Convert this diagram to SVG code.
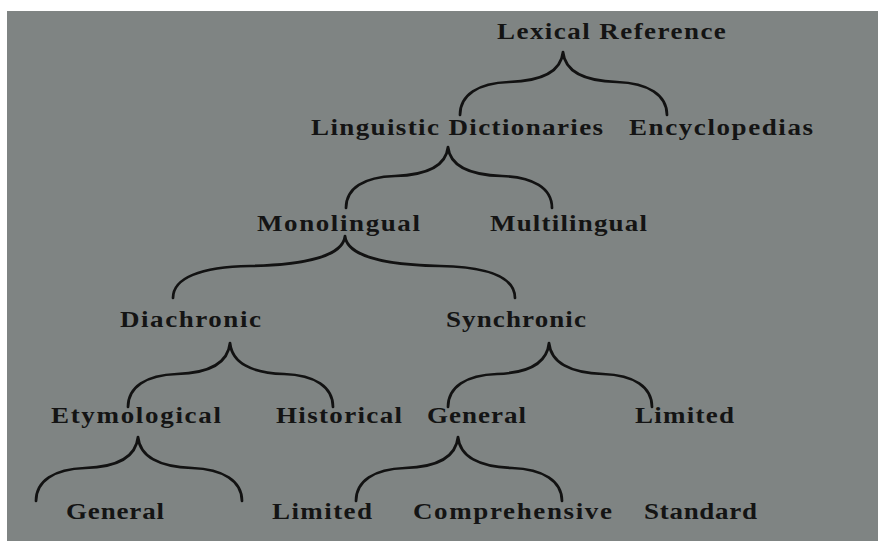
<svg xmlns="http://www.w3.org/2000/svg" width="878" height="541" viewBox="0 0 878 541">
<style>
.lbl{font-family:"Liberation Serif","Times New Roman",serif;font-weight:bold;font-size:23.5px;fill:#141414}
.br{fill:none;stroke:#121212;stroke-width:2.7;stroke-linecap:round;stroke-linejoin:round}
</style>
<rect x="0" y="0" width="878" height="541" fill="#ffffff"/>
<rect x="7" y="11" width="871" height="530" fill="#7f8483"/>
<g id="connectors">
<path class="br" d="M460,115 C460,95 478,83 509,82 C541,81 561,72 563,52 C565,72 585,81 617,82 C648,83 667,95 667,115"/>
<path class="br" d="M346,208 C346,188 364,177 395,176 C427,175 446,166 448,147 C450,166 470,175 502,176 C533,177 552,188 552,208"/>
<path class="br" d="M173,298 C173,278 200,267 250,266 C305,265 343,256 345,236 C347,256 385,265 440,266 C490,267 515,278 515,298"/>
<path class="br" d="M128,407 C128,387 146,375 177,374 C209,373 228,363 230,343 C232,363 252,373 284,374 C315,375 333,387 333,407"/>
<path class="br" d="M448,407 C448,387 466,375 497,374 C528,373 547,363 549,343 C551,363 571,373 603,374 C634,375 652,387 652,407"/>
<path class="br" d="M36,501 C36,481 54,469 85,468 C117,467 136,457 138,437 C140,457 160,467 192,468 C223,469 242,481 242,501"/>
<path class="br" d="M356,501 C356,481 374,469 405,468 C437,467 456,457 458,437 C460,457 480,467 512,468 C543,469 562,481 562,501"/>
</g>
<g id="node-lexical-reference" transform="translate(497,39) scale(1.15,1)"><text class="lbl" x="0" y="0" textLength="199" lengthAdjust="spacing">Lexical Reference</text></g>
<g id="node-linguistic-dictionaries" transform="translate(311,135) scale(1.15,1)"><text class="lbl" x="0" y="0" textLength="254" lengthAdjust="spacing">Linguistic Dictionaries</text></g>
<g id="node-encyclopedias" transform="translate(629,135) scale(1.15,1)"><text class="lbl" x="0" y="0" textLength="160" lengthAdjust="spacing">Encyclopedias</text></g>
<g id="node-monolingual" transform="translate(257,231) scale(1.15,1)"><text class="lbl" x="0" y="0" textLength="141.7" lengthAdjust="spacing">Monolingual</text></g>
<g id="node-multilingual" transform="translate(490,231) scale(1.15,1)"><text class="lbl" x="0" y="0" textLength="136.5" lengthAdjust="spacing">Multilingual</text></g>
<g id="node-diachronic" transform="translate(120,327) scale(1.15,1)"><text class="lbl" x="0" y="0" textLength="122.6" lengthAdjust="spacing">Diachronic</text></g>
<g id="node-synchronic" transform="translate(446,327) scale(1.15,1)"><text class="lbl" x="0" y="0" textLength="121.7" lengthAdjust="spacing">Synchronic</text></g>
<g id="node-etymological" transform="translate(51,423) scale(1.15,1)"><text class="lbl" x="0" y="0" textLength="147.8" lengthAdjust="spacing">Etymological</text></g>
<g id="node-historical" transform="translate(276,423) scale(1.15,1)"><text class="lbl" x="0" y="0" textLength="109.6" lengthAdjust="spacing">Historical</text></g>
<g id="node-general-sync" transform="translate(427,423) scale(1.15,1)"><text class="lbl" x="0" y="0" textLength="86.1" lengthAdjust="spacing">General</text></g>
<g id="node-limited-sync" transform="translate(635,423) scale(1.15,1)"><text class="lbl" x="0" y="0" textLength="86.1" lengthAdjust="spacing">Limited</text></g>
<g id="node-general-etym" transform="translate(66,519) scale(1.15,1)"><text class="lbl" x="0" y="0" textLength="85.2" lengthAdjust="spacing">General</text></g>
<g id="node-limited-gen" transform="translate(272,519) scale(1.15,1)"><text class="lbl" x="0" y="0" textLength="87" lengthAdjust="spacing">Limited</text></g>
<g id="node-comprehensive" transform="translate(413,519) scale(1.15,1)"><text class="lbl" x="0" y="0" textLength="173" lengthAdjust="spacing">Comprehensive</text></g>
<g id="node-standard" transform="translate(644,519) scale(1.15,1)"><text class="lbl" x="0" y="0" textLength="98.3" lengthAdjust="spacing">Standard</text></g>
</svg>
